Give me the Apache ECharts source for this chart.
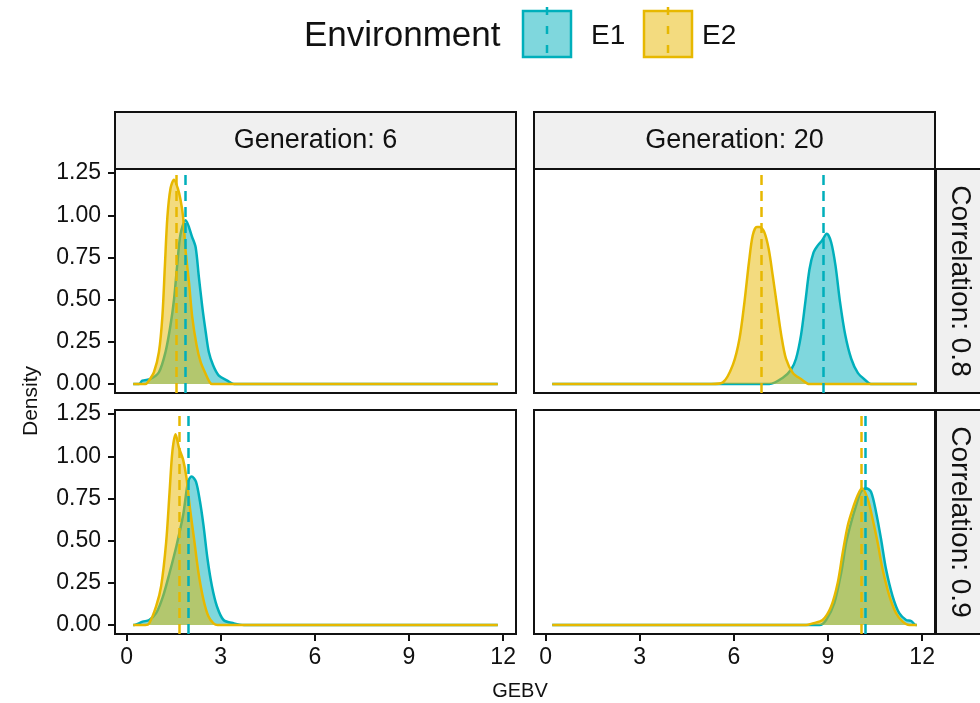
<!DOCTYPE html>
<html>
<head>
<meta charset="utf-8">
<script src="https://cdn.jsdelivr.net/npm/echarts@6/dist/echarts.min.js"></script>
<style>
  html, body { margin: 0; padding: 0; background: #fff; }
  #main { width: 980px; height: 703px; }
</style>
</head>
<body>
<div id="main"></div>
<script>
// facet labels
var generations = ['Generation: 6', 'Generation: 20'];
var correlations = ['Correlation: 0.8', 'Correlation: 0.9'];
var envNames = ['E1', 'E2'];
var envColors = ['#00AFBB', '#E7B800'];

var xTicks = [0, 3, 6, 9, 12];
var yTicks = [0, 0.25, 0.5, 0.75, 1, 1.25];

// density curves [GEBV, density]
// correlation 0.8, generation 6
var c08g6E1 = [[0.21,0],[0.4,0],[0.5,0.02],[0.76,0.03],[1.03,0.07],[1.24,0.19],[1.4,0.35],[1.51,0.5],[1.61,0.7],[1.72,0.89],[1.88,0.97],[2.09,0.87],[2.2,0.81],[2.3,0.64],[2.41,0.46],[2.52,0.31],[2.62,0.19],[2.76,0.11],[2.94,0.05],[3.21,0.02],[3.42,0],[11.83,0]];
var c08g6E2 = [[0.21,0],[0.6,0],[0.71,0.02],[0.87,0.07],[1.03,0.19],[1.14,0.4],[1.22,0.7],[1.3,0.99],[1.4,1.16],[1.51,1.21],[1.63,1.16],[1.72,1.09],[1.8,0.99],[1.88,0.79],[1.99,0.6],[2.09,0.4],[2.23,0.23],[2.36,0.13],[2.52,0.06],[2.62,0.02],[2.72,0],[11.83,0]];
// correlation 0.8, generation 20
var c08g20E1 = [[0.21,0],[7.13,0],[7.56,0.037],[7.82,0.085],[7.98,0.15],[8.14,0.29],[8.28,0.49],[8.41,0.68],[8.54,0.78],[8.67,0.82],[8.81,0.85],[8.96,0.89],[9.1,0.84],[9.24,0.7],[9.38,0.49],[9.55,0.29],[9.74,0.15],[9.95,0.066],[10.21,0.02],[10.37,0],[11.83,0]];
var c08g20E2 = [[0.21,0],[5.28,0],[5.65,0.01],[5.97,0.115],[6.18,0.27],[6.34,0.49],[6.48,0.72],[6.6,0.88],[6.73,0.93],[6.82,0.93],[6.97,0.9],[7.11,0.8],[7.24,0.64],[7.37,0.47],[7.51,0.29],[7.66,0.15],[7.88,0.066],[8.14,0.03],[8.41,0],[11.83,0]];
// correlation 0.9, generation 6
var c09g6E1 = [[0.21,0],[0.24,0],[0.51,0.02],[0.72,0.03],[0.94,0.07],[1.16,0.17],[1.37,0.31],[1.59,0.47],[1.8,0.65],[1.96,0.85],[2.07,0.88],[2.21,0.85],[2.34,0.73],[2.45,0.59],[2.58,0.39],[2.72,0.23],[2.88,0.11],[3.09,0.03],[3.42,0.01],[3.74,0],[11.83,0]];
var c09g6E2 = [[0.21,0],[0.6,0],[0.72,0.01],[0.94,0.11],[1.1,0.23],[1.26,0.49],[1.37,0.79],[1.46,1.03],[1.56,1.13],[1.67,1.05],[1.8,0.98],[1.91,0.87],[2.02,0.69],[2.15,0.51],[2.29,0.31],[2.45,0.15],[2.61,0.05],[2.77,0.01],[2.9,0],[11.83,0]];
// correlation 0.9, generation 20
var c09g20E1 = [[0.21,0],[8.73,0],[8.94,0.03],[9.2,0.13],[9.42,0.31],[9.58,0.49],[9.74,0.61],[9.9,0.71],[10.05,0.79],[10.21,0.81],[10.37,0.79],[10.53,0.67],[10.69,0.51],[10.85,0.33],[11.06,0.17],[11.27,0.07],[11.49,0.03],[11.65,0.024],[11.8,0],[11.83,0]];
var c09g20E2 = [[0.21,0],[8.3,0],[8.51,0.01],[8.83,0.03],[9.1,0.11],[9.31,0.25],[9.47,0.43],[9.63,0.59],[9.79,0.69],[9.95,0.77],[10.08,0.81],[10.26,0.75],[10.42,0.63],[10.58,0.49],[10.74,0.33],[10.96,0.17],[11.17,0.07],[11.38,0.02],[11.59,0],[11.83,0]];

// mean GEBV per panel (dashed lines): [E1, E2]
var meansC08G6 = [1.88, 1.59];
var meansC08G20 = [8.85, 6.87];
var meansC09G6 = [1.98, 1.69];
var meansC09G20 = [10.19, 10.07];

var panels = [
  { e1: c08g6E1, e2: c08g6E2, means: meansC08G6 },
  { e1: c08g20E1, e2: c08g20E2, means: meansC08G20 },
  { e1: c09g6E1, e2: c09g6E2, means: meansC09G6 },
  { e1: c09g20E1, e2: c09g20E2, means: meansC09G20 }
];

var FONT = 'Liberation Sans, Arial, sans-serif';
var TXT = '#111';

// panel layout (pixels)
var colLeft = [115, 534], colW = 401;
var rowTop = [169, 410], rowH = 224;

var grids = [], xAxes = [], yAxes = [], series = [];
for (var i = 0; i < 4; i++) {
  var r = Math.floor(i / 2), c = i % 2;
  grids.push({
    left: colLeft[c], top: rowTop[r], width: colW, height: rowH,
    show: true, borderColor: TXT, borderWidth: 2, backgroundColor: '#fff'
  });
  xAxes.push({
    type: 'value', gridIndex: i, min: -0.37, max: 12.41,
    splitLine: { show: false },
    axisLine: { show: false, onZero: false },
    axisTick: { show: r == 1, customValues: xTicks, length: 7, lineStyle: { color: TXT, width: 2 } },
    axisLabel: { show: r == 1, customValues: xTicks, margin: 12, fontSize: 23, fontFamily: FONT, color: TXT }
  });
  yAxes.push({
    type: 'value', gridIndex: i, min: -0.053, max: 1.274,
    splitLine: { show: false },
    axisLine: { show: false, onZero: false },
    axisTick: { show: c == 0, customValues: yTicks, length: 7, lineStyle: { color: TXT, width: 2 } },
    axisLabel: {
      show: c == 0, customValues: yTicks, margin: 14, fontSize: 23, fontFamily: FONT, color: TXT,
      formatter: function (v) { return v.toFixed(2); }
    }
  });
  var curves = [panels[i].e1, panels[i].e2];
  for (var k = 0; k < 2; k++) {
    series.push({
      name: envNames[k], type: 'line', xAxisIndex: i, yAxisIndex: i,
      data: curves[k], showSymbol: false, smooth: 0.3, silent: true,
      lineStyle: { color: envColors[k], width: 2.5 },
      itemStyle: { color: envColors[k] },
      areaStyle: { color: envColors[k], opacity: 0.5 },
      z: 2 + k,
      markLine: {
        silent: true, symbol: 'none', label: { show: false },
        lineStyle: { color: envColors[k], type: [10, 6], width: 2.5 },
        data: [{ xAxis: panels[i].means[k] }]
      }
    });
  }
}

var graphics = [];
// legend
graphics.push({ type: 'text', x: 304, y: 36, style: { text: 'Environment', font: '35px ' + FONT, fill: TXT, textAlign: 'left', textVerticalAlign: 'middle' } });
var keyX = [523, 644], labX = [591, 702];
for (var k = 0; k < 2; k++) {
  graphics.push({ type: 'rect', shape: { x: keyX[k], y: 11, width: 48, height: 46 }, style: { fill: envColors[k], opacity: 0.5 } });
  graphics.push({ type: 'rect', shape: { x: keyX[k], y: 11, width: 48, height: 46 }, style: { fill: 'none', stroke: envColors[k], lineWidth: 2.5 } });
  graphics.push({ type: 'line', shape: { x1: keyX[k] + 24, y1: 7, x2: keyX[k] + 24, y2: 60 }, style: { stroke: envColors[k], lineWidth: 2.5, lineDash: [8, 11] } });
  graphics.push({ type: 'text', x: labX[k], y: 36, style: { text: envNames[k], font: '28px ' + FONT, fill: TXT, textAlign: 'left', textVerticalAlign: 'middle' } });
}
// column strips
for (var c = 0; c < 2; c++) {
  graphics.push({ type: 'rect', z: 10, shape: { x: colLeft[c], y: 112, width: colW, height: 57 }, style: { fill: '#F0F0F0', stroke: TXT, lineWidth: 2 } });
  graphics.push({ type: 'text', z: 11, x: colLeft[c] + colW / 2, y: 141, style: { text: generations[c], font: '27px ' + FONT, fill: TXT, textAlign: 'center', textVerticalAlign: 'middle' } });
}
// row strips
for (var r = 0; r < 2; r++) {
  graphics.push({ type: 'rect', z: 10, shape: { x: 936, y: rowTop[r], width: 60, height: rowH }, style: { fill: '#F0F0F0', stroke: TXT, lineWidth: 2 } });
  graphics.push({ type: 'text', z: 11, x: 960, y: rowTop[r] + rowH / 2, rotation: -Math.PI / 2, style: { text: correlations[r], font: '28px ' + FONT, fill: TXT, textAlign: 'center', textVerticalAlign: 'middle' } });
}
// axis titles
graphics.push({ type: 'text', x: 31, y: 401, rotation: Math.PI / 2, style: { text: 'Density', font: '21px ' + FONT, fill: TXT, textAlign: 'center', textVerticalAlign: 'middle' } });
graphics.push({ type: 'text', x: 520, y: 691, style: { text: 'GEBV', font: '20px ' + FONT, fill: TXT, textAlign: 'center', textVerticalAlign: 'middle' } });

var chart = echarts.init(document.getElementById('main'));
chart.setOption({
  animation: false,
  backgroundColor: '#fff',
  grid: grids,
  xAxis: xAxes,
  yAxis: yAxes,
  series: series,
  graphic: graphics
});
</script>
</body>
</html>
